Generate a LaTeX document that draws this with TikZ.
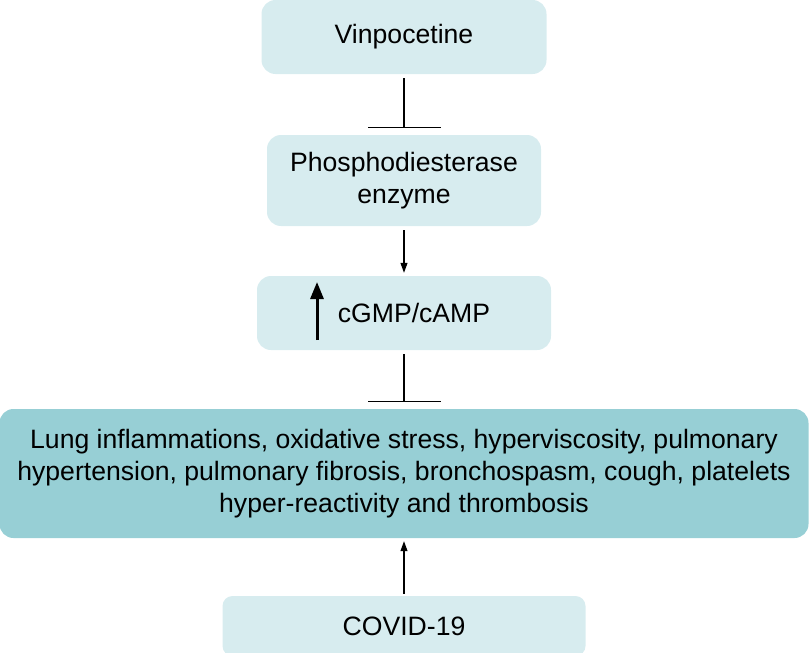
\documentclass[tikz,border=0pt]{standalone}
\usepackage{fontspec}
\setmainfont{Liberation Sans}
\usetikzlibrary{arrows.meta}
\definecolor{lightbox}{HTML}{D7ECEF}
\definecolor{darkbox}{HTML}{97CFD5}
\begin{document}
\begin{tikzpicture}[x=1pt,y=-1pt,
  box/.style={fill=lightbox,draw=none,rounded corners=14pt,inner sep=0pt,align=center,
    font=\fontsize{26.6}{32}\selectfont},
  darkstyle/.style={box,fill=darkbox},
  conn/.style={line width=1.1pt},
  arr/.style={conn,-{Triangle[length=10pt,width=7pt]}},
  inh/.style={conn,-{Bar[width=73pt,line width=1.1pt]}}]
\useasboundingbox (0,0) rectangle (809,653);
\node[box,minimum width=285pt,minimum height=74pt] (vin) at (404,37) {Vinpocetine};
\node[box,minimum width=274pt,minimum height=91pt] (pde) at (404,180.5) {Phosphodiesterase\\enzyme};
\node[box,minimum width=294pt,minimum height=74pt] (cgmp) at (404,313) {};
\node[font=\fontsize{26.6}{32}\selectfont,inner sep=0pt] (cgmptxt) at (414,313) {cGMP/cAMP};
\coordinate (upS) at (317,340);
\coordinate (upE) at (317,282);
\node[darkstyle,minimum width=809pt,minimum height=129pt] (lung) at (404,473.5)
  {Lung inflammations, oxidative stress, hyperviscosity, pulmonary\\
   hypertension, pulmonary fibrosis, bronchospasm, cough, platelets\\
   hyper-reactivity and thrombosis};
\node[box,minimum width=363pt,minimum height=60pt,rounded corners=10pt] (covid) at (404,626) {COVID-19};
\draw[conn,-{Triangle[length=17pt,width=13pt]},line width=3pt] (upS) -- (upE);
\draw[inh] ([yshift=-4pt]vin.south) -- ([yshift=7pt]pde.north);
\draw[arr] ([yshift=-4pt]pde.south) -- ([yshift=3pt]cgmp.north);
\draw[inh] ([yshift=-4pt]cgmp.south) -- ([yshift=7pt]lung.north);
\draw[arr] ([yshift=2pt]covid.north) -- ([yshift=-3pt]lung.south);
\end{tikzpicture}
\end{document}
